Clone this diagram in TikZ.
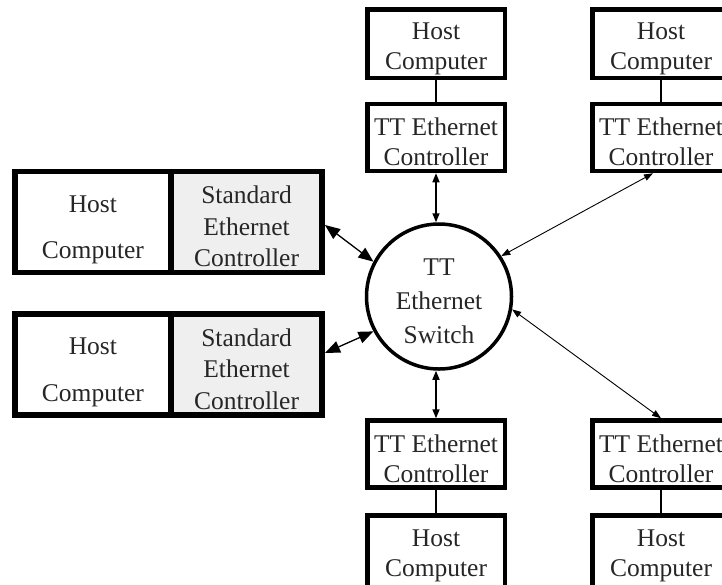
\documentclass[tikz,border=0pt]{standalone}
\usepackage{fontspec}
\setmainfont{Liberation Serif}
\usetikzlibrary{arrows.meta}
\definecolor{txt}{HTML}{262626}
\definecolor{ctrlgrey}{HTML}{EFEFEF}
\newcommand{\tpad}{\rule{0pt}{27pt}}
\newcommand{\hpad}{\rule{0pt}{32pt}}
\tikzset{
  tbox/.style={draw, line width=4.5pt, minimum width=137.5pt, minimum height=67pt,
    inner sep=0pt, align=center, text=txt, font=\fontsize{25.5}{30}\selectfont},
  lbox/.style={draw, line width=5.5pt, minimum height=101pt,
    inner sep=0pt, align=center, text=txt, font=\fontsize{25.5}{31.5}\selectfont},
  switchnode/.style={draw, circle, line width=3.5pt, minimum size=145pt, inner sep=0pt,
    align=center, text=txt, font=\fontsize{25.5}{34}\selectfont},
  link/.style={line width=1.3pt},
  bigarrow/.style={line width=1.3pt, {Triangle[length=15pt,width=12pt]}-{Triangle[length=15pt,width=12pt]}},
  midarrow/.style={line width=1.5pt, {Triangle[length=9pt,width=7pt]}-{Triangle[length=9pt,width=7pt]}},
  diagarrow/.style={line width=0.9pt, {Triangle[length=9pt,width=6.5pt]}-{Triangle[length=9pt,width=6.5pt]}}
}
\begin{document}
\begin{tikzpicture}[x=1pt,y=-1pt]
\useasboundingbox (0,0) rectangle (722,584);
\clip (0,0) rectangle (722,584);

% left pairs
\node[lbox, minimum width=156.25pt] (lh1) at (92.9,222) {\hpad Host\\[15pt]Computer};
\node[lbox, minimum width=151.25pt, fill=ctrlgrey] (sc1) at (246.6,222) {\tpad Standard\\Ethernet\\Controller};
\node[lbox, minimum width=156.25pt] (lh2) at (92.9,364.5) {\hpad Host\\[15pt]Computer};
\node[lbox, minimum width=151.25pt, fill=ctrlgrey] (sc2) at (246.6,364.5) {\tpad Standard\\Ethernet\\Controller};

% switch
\node[switchnode] (sw) at (439,296.5) {\tpad TT\\Ethernet\\Switch};

% top middle
\node[tbox, minimum height=68.5pt] (th1) at (436,43.5) {\tpad Host\\Computer};
\node[tbox] (tc1) at (436,137.5) {\tpad TT Ethernet\\Controller};
% top right
\node[tbox, minimum height=68.5pt] (th2) at (661,43.5) {\tpad Host\\Computer};
\node[tbox] (tc2) at (661,137.5) {\tpad TT Ethernet\\Controller};
% bottom middle
\node[tbox] (bc1) at (436,454) {\tpad TT Ethernet\\Controller};
\node[tbox, minimum height=80pt] (bh1) at (436,555.5) {Host\\Computer};
% bottom right
\node[tbox] (bc2) at (661,454) {\tpad TT Ethernet\\Controller};
\node[tbox, minimum height=80pt] (bh2) at (661,555.5) {Host\\Computer};

% host-controller links
\draw[link] (th1) -- (tc1);
\draw[link] (th2) -- (tc2);
\draw[link] (bc1) -- (bh1);
\draw[link] (bc2) -- (bh2);

% arrows to switch
\draw[bigarrow] ([yshift=-3pt]sc1.east) -- (sw.152);
\draw[bigarrow] ([yshift=11.5pt]sc2.east) -- (sw.208);
\draw[midarrow] (tc1.south) -- (tc1.south |- sw.north);
\draw[midarrow] (sw.south -| bc1.north) -- (bc1.north);
\draw[diagarrow] ([xshift=-8pt]tc2.south) -- (sw.33);
\draw[diagarrow] (sw.-10) -- (bc2.north);
\end{tikzpicture}
\end{document}
